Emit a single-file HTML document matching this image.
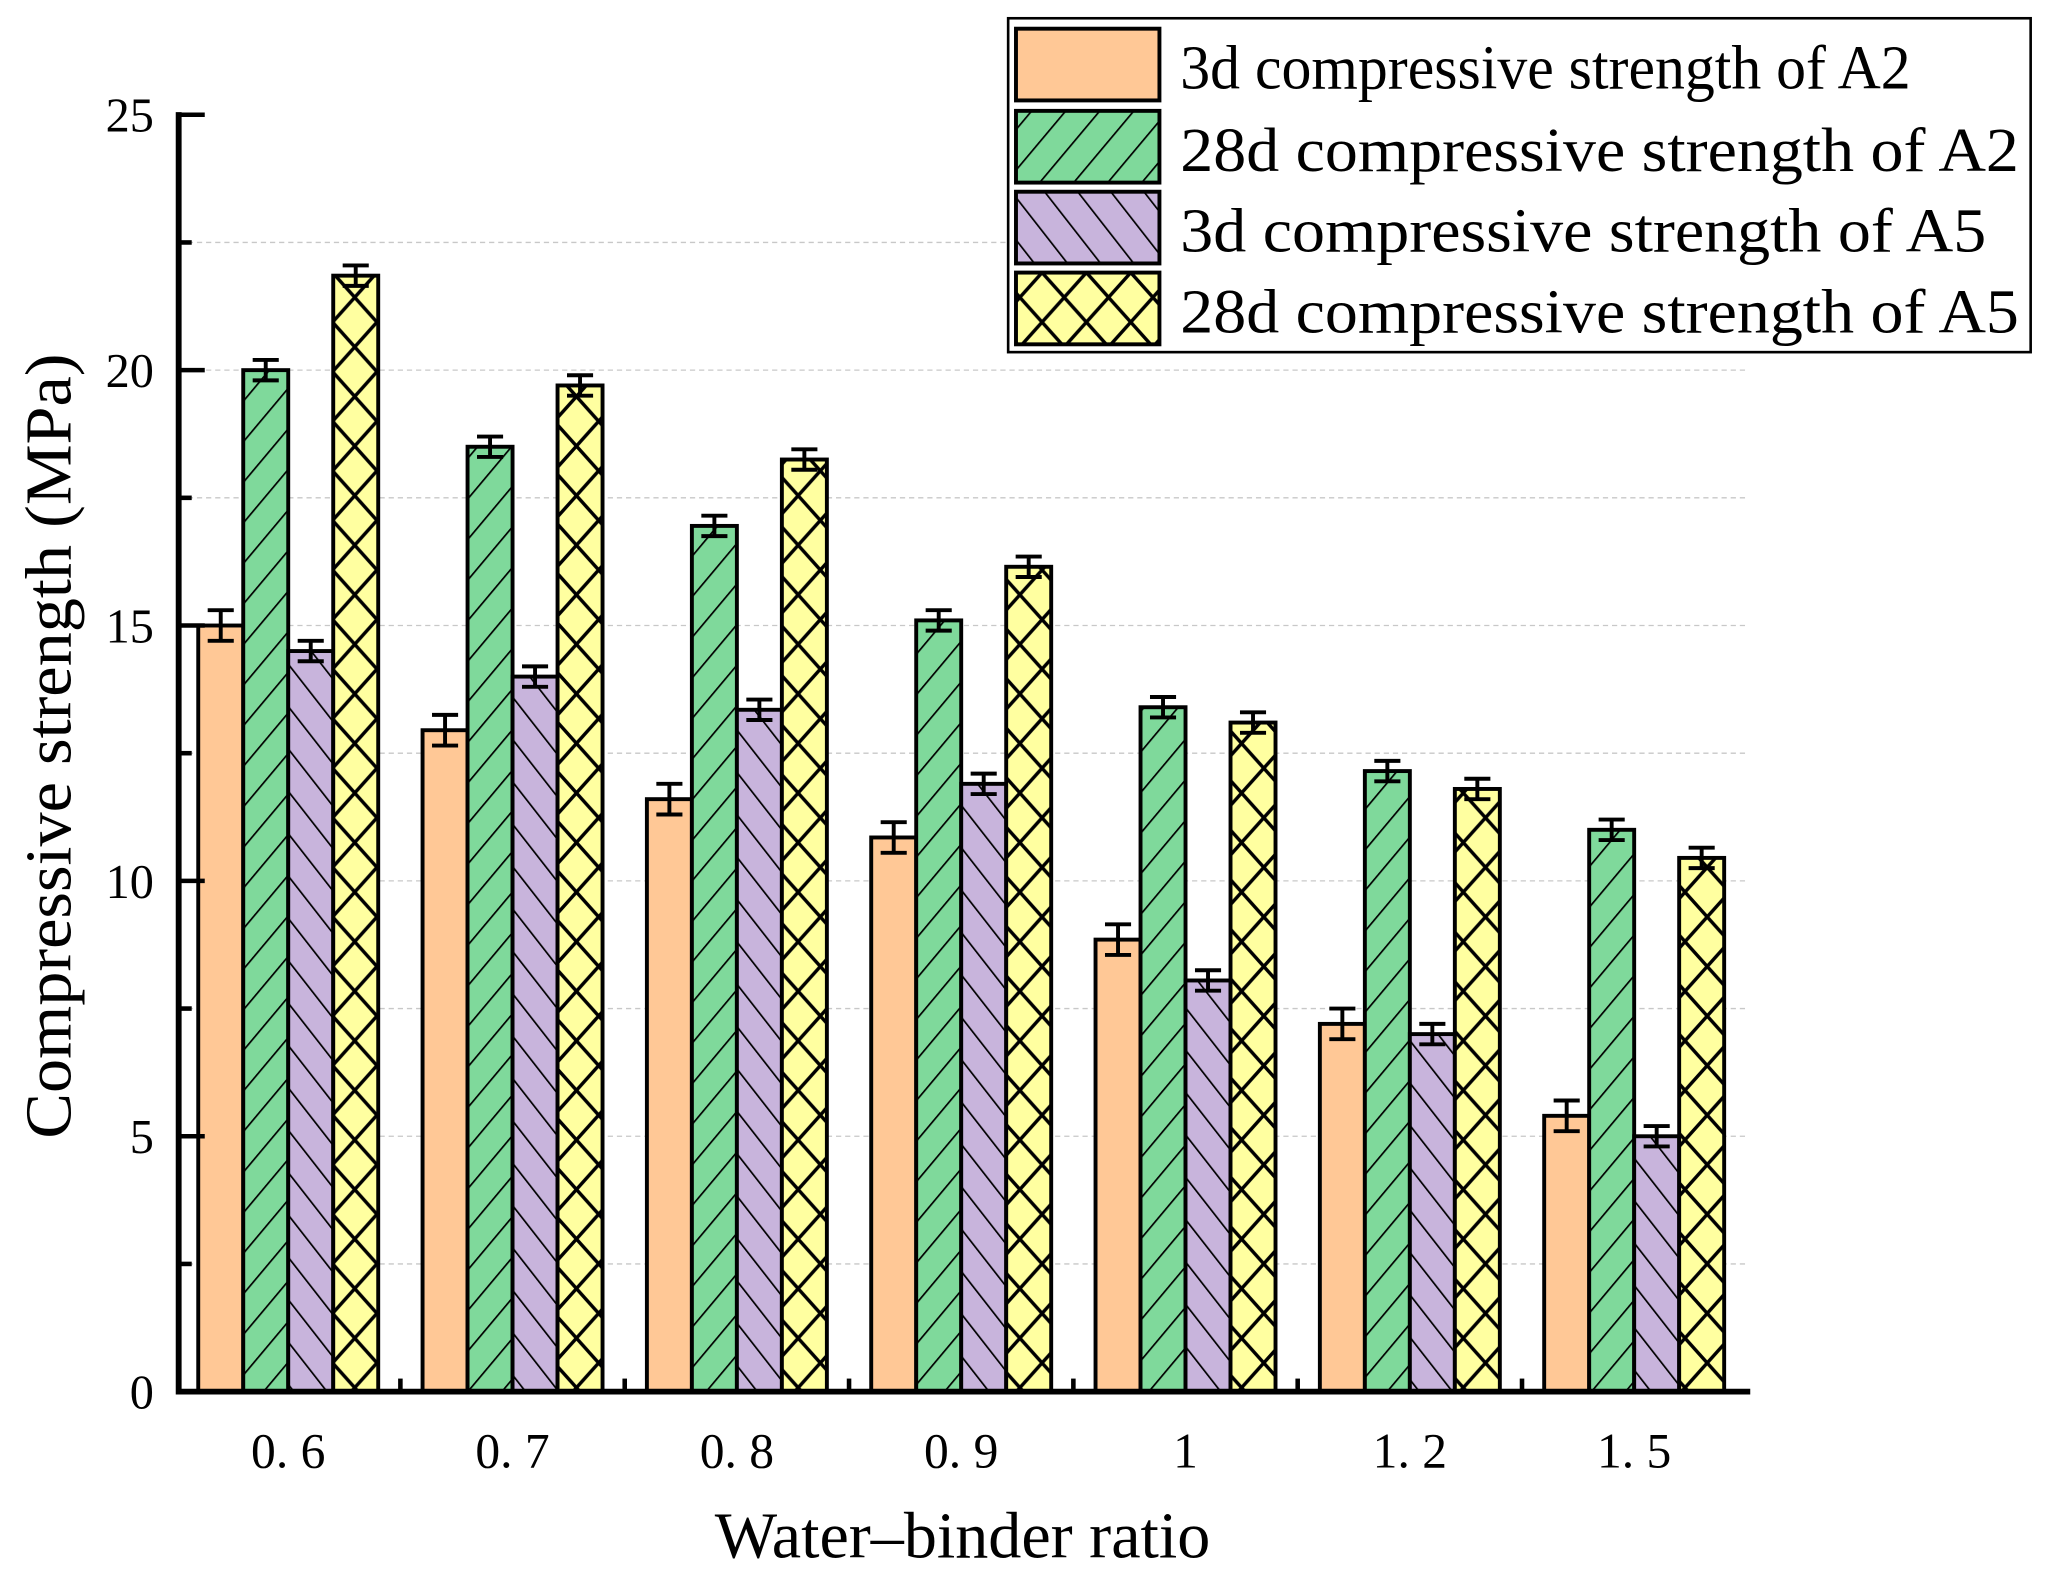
<!DOCTYPE html>
<html><head><meta charset="utf-8">
<style>
html,body{margin:0;padding:0;background:#fff;}
svg{display:block;}
text{font-family:"Liberation Serif",serif;fill:#000;}
</style></head>
<body>
<svg id="chart" width="2045" height="1575" viewBox="0 0 1568 1207.6" preserveAspectRatio="none" xmlns="http://www.w3.org/2000/svg">
<defs>
<pattern id="hatchF" patternUnits="userSpaceOnUse" width="20" height="20" patternTransform="rotate(40)">
<rect width="20" height="20" fill="#7FD99B"/><line x1="0" y1="0" x2="0" y2="20" stroke="#000" stroke-width="2.6"/></pattern>
<pattern id="hatchB" patternUnits="userSpaceOnUse" width="20" height="20" patternTransform="rotate(-38)">
<rect width="20" height="20" fill="#C8B4DC"/><line x1="0" y1="0" x2="0" y2="20" stroke="#000" stroke-width="2.6"/></pattern>
<pattern id="hatchX" patternUnits="userSpaceOnUse" width="34" height="38">
<rect width="34" height="38" fill="#FFFFA0"/>
<path d="M0,0 L34,38 M34,0 L0,38" stroke="#000" stroke-width="2.6"/></pattern>
</defs>
<g id="grid"></g>
<g id="bars"></g>
<g id="axes"></g>
<g id="legend"></g>
<text transform="translate(54,572) rotate(-90)" text-anchor="middle" font-size="50" textLength="602" lengthAdjust="spacingAndGlyphs">Compressive strength (MPa)</text>
<text x="738" y="1194" text-anchor="middle" font-size="50" textLength="380" lengthAdjust="spacingAndGlyphs">Water–binder ratio</text>
</svg>
<script>
const categories = ["0. 6","0. 7","0. 8","0. 9","1","1. 2","1. 5"];
const a2_3d  = [15.0, 12.95, 11.6, 10.85, 8.85, 7.2, 5.4];
const a2_28d = [20.0, 18.5, 16.95, 15.1, 13.4, 12.15, 11.0];
const a5_3d  = [14.5, 14.0, 13.35, 11.9, 8.05, 7.0, 5.0];
const a5_28d = [21.85, 19.7, 18.25, 16.15, 13.1, 11.8, 10.45];
const a2_3d_err  = [0.3, 0.3, 0.3, 0.3, 0.3, 0.3, 0.3];
const a2_28d_err = [0.2, 0.2, 0.2, 0.2, 0.2, 0.2, 0.2];
const a5_3d_err  = [0.2, 0.2, 0.2, 0.2, 0.2, 0.2, 0.2];
const a5_28d_err = [0.2, 0.2, 0.2, 0.2, 0.2, 0.2, 0.2];
const yTicks = [0, 5, 10, 15, 20, 25];
const seriesNames = ["3d compressive strength of A2","28d compressive strength of A2","3d compressive strength of A5","28d compressive strength of A5"];

const NS = "http://www.w3.org/2000/svg";
const X0 = 137, X1 = 1340, Y0 = 1067, YTOP = 88, YMAX = 25;
const GSTART = 152, GSTEP = 172, BW = 34.5;
function y(v){ return Y0 - v * (Y0 - YTOP) / YMAX; }
function xBar(i, s){ return GSTART + i * GSTEP + s * BW; }
function mk(tag, attrs, parent){ const e = document.createElementNS(NS, tag); for (const k in attrs) e.setAttribute(k, attrs[k]); parent.appendChild(e); return e; }

const grid = document.getElementById('grid');
for (let v = 2.5; v <= 22.5; v += 2.5) {
  const g = mk('line', {x1: X0, x2: X1, y1: y(v), y2: y(v), stroke: '#c8c8c8', 'stroke-width': 1, 'stroke-dasharray': '4,3'}, grid);
  
  
}

const fills = ['#FFC896', 'url(#hatchF)', 'url(#hatchB)', 'url(#hatchX)'];
const vals = [a2_3d, a2_28d, a5_3d, a5_28d];
const errs = [a2_3d_err, a2_28d_err, a5_3d_err, a5_28d_err];
const barsG = document.getElementById('bars');
const sNames = ['a2-3d', 'a2-28d', 'a5-3d', 'a5-28d'];
categories.forEach((c, i) => {
  for (let s = 0; s < 4; s++) {
    const v = vals[s][i], e = errs[s][i];
    const x = xBar(i, s);
    const r = mk('rect', {x: x, y: y(v), width: BW, height: Y0 - y(v), fill: fills[s], stroke: '#000', 'stroke-width': 3}, barsG);
    
    
    const cx = x + BW / 2;
    const eb = mk('path', {d: `M${cx},${y(v + e)} L${cx},${y(v - e)} M${cx - 10},${y(v + e)} L${cx + 10},${y(v + e)} M${cx - 10},${y(v - e)} L${cx + 10},${y(v - e)}`, stroke: '#000', 'stroke-width': 3, fill: 'none'}, barsG);
    
    
  }
});

const axes = document.getElementById('axes');
mk('path', {d: `M${X0},${YTOP - 2} L${X0},${Y0} L${X1 + 2},${Y0}`, stroke: '#000', 'stroke-width': 4.5, fill: 'none'}, axes);
for (let v = 0; v <= 25; v += 2.5) {
  const major = Math.abs(v % 5) < 1e-6;
  mk('line', {x1: X0, x2: X0 + (major ? 20 : 10), y1: y(v), y2: y(v), stroke: '#000', 'stroke-width': 3.5}, axes);
}
yTicks.forEach(v => {
  const t = mk('text', {x: 118, y: y(v) + 13, 'text-anchor': 'end', 'font-size': 37}, axes);
  t.textContent = v;
  
  
});
categories.forEach((c, i) => {
  const bx = GSTART + i * GSTEP - (GSTEP - 4 * BW) / 2;
  if (i > 0) mk('line', {x1: bx, x2: bx, y1: Y0, y2: Y0 - 10, stroke: '#000', 'stroke-width': 3.5}, axes);
  const t = mk('text', {x: GSTART + i * GSTEP + 2 * BW, y: 1125, 'text-anchor': 'middle', 'font-size': 38, 'xml:space': 'preserve'}, axes);
  t.textContent = c;
  
  
});

const lg = document.getElementById('legend');
mk('rect', {x: 773, y: 14, width: 784, height: 256, fill: '#fff', stroke: '#000', 'stroke-width': 2}, lg);
const rowsY = [22, 85, 147, 209];
const textW = [560, 643, 618, 643];
seriesNames.forEach((n, s) => {
  const r = mk('rect', {x: 779, y: rowsY[s], width: 110, height: 55, fill: fills[s], stroke: '#000', 'stroke-width': 3}, lg);
  
  
  const t = mk('text', {x: 905, y: rowsY[s] + 46, 'font-size': 48, textLength: textW[s], lengthAdjust: 'spacingAndGlyphs'}, lg);
  t.textContent = n;
  
  
});
</script>
</body></html>
